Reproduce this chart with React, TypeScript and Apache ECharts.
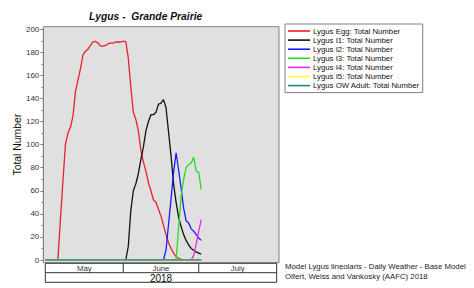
import React, { useEffect, useRef } from "react";
import * as echarts from "echarts";

const chartTitle = "Lygus -  Grande Prairie";
const yAxisName = "Total Number";
const yearLabel = "2018";
const monthLabels = ["May", "June", "July"];
const monthBoundaries = [
  [2018, 4, 1],
  [2018, 5, 1],
  [2018, 6, 1],
  [2018, 7, 1],
];
const firstDay = [2018, 4, 1];
const footerLines = [
  "Model Lygus lineolaris - Daily Weather - Base Model",
  "Olfert, Weiss and Vankosky (AAFC) 2018",
];
const seriesNames = [
  "Lygus Egg: Total Number",
  "Lygus I1: Total Number",
  "Lygus I2: Total Number",
  "Lygus I3: Total Number",
  "Lygus I4: Total Number",
  "Lygus I5: Total Number",
  "Lygus OW Adult: Total Number",
];
const seriesColors = ["#e8202a", "#111111", "#1a1aff", "#22dd22", "#ee22ee", "#ffff33", "#1a8a8a"];

// daily values, May 1 .. July 2, 2018
const eggValues = [
  0, 0, 0, 0, 0, 0, 35, 68, 100, 110, 115, 125, 146, 156, 166, 178, 181, 183, 186, 189, 189.5,
  188, 185.5, 185.5, 186, 187.5, 188, 188, 189, 189, 189, 189.5, 189.5, 175, 150, 128, 122, 112,
  95, 85, 77, 67, 60, 52, 50, 44, 38, 30, 22, 15, 10, 6, 3, 1.5, 0.5, 0, 0, 0, 0, 0, 0, 0, 0,
];
const i1Values = [
  0, 0, 0, 0, 0, 0, 0, 0, 0, 0, 0, 0, 0, 0, 0, 0, 0, 0, 0, 0, 0, 0, 0, 0, 0, 0, 0, 0, 0, 0, 0, 0, 0,
  12, 43, 60, 66, 75, 87, 98, 112, 120, 126, 126, 128, 135, 136, 139, 132, 111, 90, 66, 50, 37,
  29, 22, 17, 13, 10, 8.5, 7, 6, 5,
];
const i2Values = [
  0, 0, 0, 0, 0, 0, 0, 0, 0, 0, 0, 0, 0, 0, 0, 0, 0, 0, 0, 0, 0, 0, 0, 0, 0, 0, 0, 0, 0, 0, 0, 0,
  0, 0, 0, 0, 0, 0, 0, 0, 0, 0, 0, 0, 0, 0, 0, 0, 9, 31, 53, 76, 93, 78, 62, 45, 34, 32, 27, 25,
  22, 19, 17,
];
const i3Values = [
  0, 0, 0, 0, 0, 0, 0, 0, 0, 0, 0, 0, 0, 0, 0, 0, 0, 0, 0, 0, 0, 0, 0, 0, 0, 0, 0, 0, 0, 0, 0, 0,
  0, 0, 0, 0, 0, 0, 0, 0, 0, 0, 0, 0, 0, 0, 0, 0, 0, 0, 0, 0, 0, 28, 55, 70, 80, 83, 84, 89, 77,
  76, 61,
];
const i4Values = [
  0, 0, 0, 0, 0, 0, 0, 0, 0, 0, 0, 0, 0, 0, 0, 0, 0, 0, 0, 0, 0, 0, 0, 0, 0, 0, 0, 0, 0, 0, 0, 0,
  0, 0, 0, 0, 0, 0, 0, 0, 0, 0, 0, 0, 0, 0, 0, 0, 0, 0, 0, 0, 0, 0, 0, 0, 0, 0, 0, 4, 14, 25, 35,
];
const i5Values = [
  0, 0, 0, 0, 0, 0, 0, 0, 0, 0, 0, 0, 0, 0, 0, 0, 0, 0, 0, 0, 0, 0, 0, 0, 0, 0, 0, 0, 0, 0, 0, 0,
  0, 0, 0, 0, 0, 0, 0, 0, 0, 0, 0, 0, 0, 0, 0, 0, 0, 0, 0, 0, 0, 0, 0, 0, 0, 0, 0, 0, 0, 0, 0,
];
const owAdultValues = [
  0, 0, 0, 0, 0, 0, 0, 0, 0, 0, 0, 0, 0, 0, 0, 0, 0, 0, 0, 0, 0, 0, 0, 0, 0, 0, 0, 0, 0, 0, 0, 0,
  0, 0, 0, 0, 0, 0, 0, 0, 0, 0, 0, 0, 0, 0, 0, 0, 0, 0, 0, 0, 0, 0, 0, 0, 0, 0, 0, 0, 0, 0, 0,
];
const allValues = [eggValues, i1Values, i2Values, i3Values, i4Values, i5Values, owAdultValues];

const FONT = "'Liberation Sans', Arial, sans-serif";

function dayTime(i: number) {
  return new Date(firstDay[0], firstDay[1], firstDay[2] + i).getTime();
}

export default function App() {
  const ref = useRef<HTMLDivElement>(null);
  useEffect(() => {
    if (!ref.current) return;
    const chart = echarts.init(ref.current, undefined, { renderer: "svg" });
    const bounds = monthBoundaries.map((b) => new Date(b[0], b[1], b[2]).getTime());
    chart.setOption({
      animation: false,
      backgroundColor: "#ffffff",
      title: {
        text: chartTitle,
        left: 89,
        top: 11,
        padding: 0,
        textStyle: { fontSize: 10.3, fontWeight: "bold", fontStyle: "italic", color: "#111", fontFamily: FONT },
      },
      legend: {
        orient: "vertical",
        left: 285,
        top: 24,
        padding: [2.5, 3, 2.5, 3],
        borderColor: "#808080",
        borderWidth: 1,
        backgroundColor: "#ffffff",
        icon: "rect",
        itemWidth: 22,
        itemHeight: 1.6,
        itemGap: 0.1,
        data: seriesNames,
        textStyle: { fontSize: 7.8, color: "#111", fontFamily: FONT, lineHeight: 9, padding: [0, 0, 0, -2] },
      },
      grid: { left: 45.3, right: 197.3, top: 29.3, bottom: 28 },
      xAxis: {
        type: "time",
        min: bounds[0],
        max: bounds[3],
        show: false,
      },
      yAxis: {
        type: "value",
        min: 0,
        max: 200,
        interval: 20,
        offset: 2,
        name: yAxisName,
        nameLocation: "middle",
        nameGap: 19,
        nameTextStyle: { fontSize: 10.4, color: "#111", fontFamily: FONT },
        axisLine: { show: true, lineStyle: { color: "#808080", width: 1 } },
        axisTick: { show: true, length: 3, lineStyle: { color: "#808080" } },
        minorTick: { show: true, splitNumber: 2, length: 2, lineStyle: { color: "#909090" } },
        splitLine: { show: false },
        axisLabel: { fontSize: 8, color: "#333", fontFamily: FONT, margin: 4 },
      },
      series: seriesNames.map((name, k) => ({
        name,
        type: "line",
        symbol: "none",
        showSymbol: false,
        color: seriesColors[k],
        lineStyle: { width: 1.3, color: seriesColors[k] },
        data: allValues[k].map((v, i) => [dayTime(i), v]),
        z: 2 + k,
      })),
    });

    const px = (t: number) => chart.convertToPixel({ xAxisIndex: 0 }, t) as number;
    const py = (v: number) => chart.convertToPixel({ yAxisIndex: 0 }, v) as number;
    const xs = bounds.map(px);
    const yTop = py(200);
    const yZero = py(0);
    const frameL = xs[0] - 2;
    const frameR = xs[3] + 2.3;
    const frameT = yTop - 2.6;
    const frameB = yZero + 2.7;
    const bandT = yZero + 3.3;
    const bandM = yZero + 12.7;
    const bandB = yZero + 22.3;
    const stroke = { stroke: "#333", lineWidth: 1, fill: "none" };
    const graphics: any[] = [
      {
        type: "rect",
        z: -10,
        shape: { x: frameL, y: frameT, width: frameR - frameL, height: frameB - frameT },
        style: { fill: "#e0e0e0", stroke: "#808080", lineWidth: 1 },
      },
      {
        type: "rect",
        shape: { x: xs[0], y: bandT, width: xs[3] - xs[0], height: bandB - bandT },
        style: { fill: "#ffffff", stroke: "#333", lineWidth: 1 },
      },
      { type: "line", shape: { x1: xs[0], y1: bandM, x2: xs[3], y2: bandM }, style: stroke },
      { type: "line", shape: { x1: xs[1], y1: bandT, x2: xs[1], y2: bandM }, style: stroke },
      { type: "line", shape: { x1: xs[2], y1: bandT, x2: xs[2], y2: bandM }, style: stroke },
      ...monthLabels.map((m, i) => ({
        type: "text",
        x: (xs[i] + xs[i + 1]) / 2,
        y: (bandT + bandM) / 2 + 0.5,
        style: { text: m, fill: "#333", fontSize: 7.8, fontFamily: FONT, align: "center", verticalAlign: "middle" },
      })),
      {
        type: "text",
        x: (xs[0] + xs[3]) / 2,
        y: (bandM + bandB) / 2 + 0.5,
        style: { text: yearLabel, fill: "#111", fontSize: 10, fontFamily: FONT, align: "center", verticalAlign: "middle" },
      },
      ...footerLines.map((t, i) => ({
        type: "text",
        x: frameR + 6,
        y: yZero + 6 + i * 10,
        style: { text: t, fill: "#222", fontSize: 7.8, fontFamily: FONT, align: "left", verticalAlign: "middle" },
      })),
    ];
    chart.setOption({ graphic: graphics });
    return () => chart.dispose();
  }, []);
  return (
    <div
      ref={ref}
      style={{ position: "fixed", left: 0, top: 0, width: 474, height: 288, background: "#fff" }}
    />
  );
}
